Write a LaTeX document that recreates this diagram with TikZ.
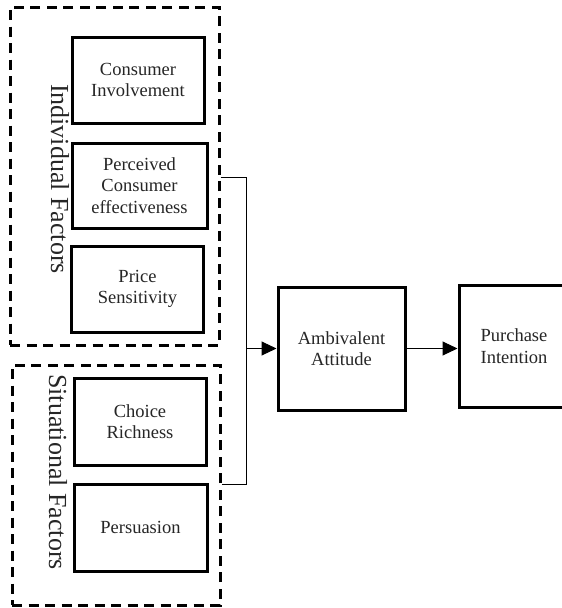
\documentclass[tikz,border=0pt]{standalone}
\usepackage{fontspec}
\setmainfont{Liberation Serif}
\usepackage{tikz}
\usetikzlibrary{arrows.meta}
\tikzstyle{factorbox} = [draw=black, fill=white, line width=3pt,
    rectangle, align=center, inner sep=2pt, text=black!85, font=\fontsize{18.5}{21.5}\selectfont]
\tikzstyle{groupbox} = [draw=black, line width=3pt, dash pattern=on 10pt off 6.5pt, rectangle]
\tikzstyle{grouptitle} = [rotate=-90, inner sep=0pt, text=black!85, font=\fontsize{26}{28}\selectfont]
\tikzstyle{conn} = [draw=black, line width=1pt]
\tikzstyle{flow} = [conn, -{Triangle[length=15pt, width=14pt]}]

\begin{document}
\begin{tikzpicture}[x=1pt, y=-1pt]
                \useasboundingbox (0,0) rectangle (562,608);
                % dashed groups
                \node [groupbox, minimum width=209pt, minimum height=338pt] (indiv) at (114.5,176) {};
                \node [groupbox, minimum width=208pt, minimum height=240pt] (situ) at (116,485) {};
                \node [grouptitle] (indivtitle) at (60,179) {Individual Factors};
                \node [grouptitle] (situtitle) at (58,472) {Situational Factors};
                % factor boxes
                \node [factorbox, minimum width=132pt, minimum height=86pt] (CI) at (138,80) {Consumer\\Involvement};
                \node [factorbox, minimum width=135pt, minimum height=85pt] (PCE) at (139.5,185.5) {Perceived\\Consumer\\effectiveness};
                \node [factorbox, minimum width=132pt, minimum height=86pt] (PS) at (137.5,289) {Price\\Sensitivity};
                \node [factorbox, minimum width=132pt, minimum height=87pt] (CR) at (140,421.5) {Choice\\Richness};
                \node [factorbox, minimum width=133pt, minimum height=87pt] (PE) at (140.5,527.5) {Persuasion};
                % outcome boxes
                \node [factorbox, minimum width=127pt, minimum height=123pt] (AA) at (341.5,348.5) {Ambivalent\\Attitude};
                \node [factorbox, minimum width=110pt, minimum height=122pt] (PI) at (514,346) {Purchase\\Intention};
                % bracket and arrows
                \coordinate (btop) at (246,177);
                \coordinate (bbot) at (246,484);
                \coordinate (bmid) at (btop |- AA.west);
                \draw [conn] (indiv.east |- btop) -- (btop) -- (bbot) -- (situ.east |- bbot);
                \draw [flow] (bmid) -- (AA.west);
                \draw [flow] (AA.east) -- (AA.east -| PI.west);
            \end{tikzpicture}
\end{document}
